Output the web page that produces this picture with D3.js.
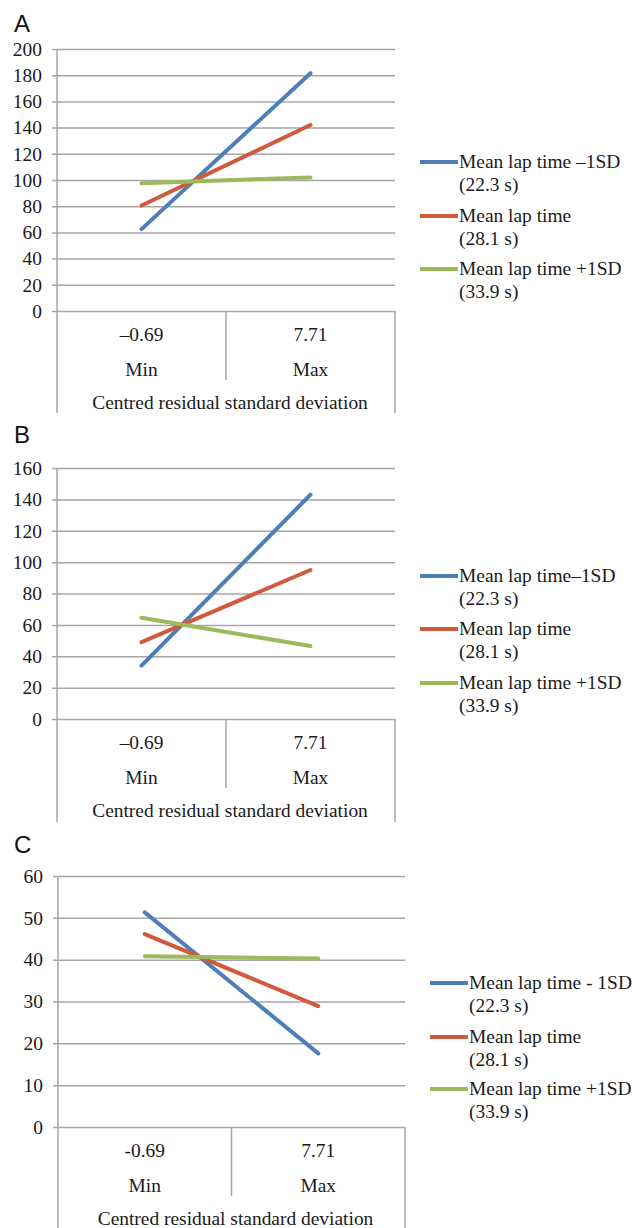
<!DOCTYPE html>
<html>
<head>
<meta charset="utf-8">
<script src="https://cdn.jsdelivr.net/npm/d3@7/dist/d3.min.js"></script>
<style>
  body { margin: 0; background: #fff; }
</style>
</head>
<body>
<div id="chart"></div>
<script>
// categories on the x axis
const categories = ["Min", "Max"];
const residualSD_AB = ["\u20130.69", "7.71"];
const residualSD_C = ["-0.69", "7.71"];
const axisTitle = "Centred residual standard deviation";

// legend entries
const seriesA = ["Mean lap time \u20131SD", "Mean lap time", "Mean lap time +1SD"];
const seriesB = ["Mean lap time\u20131SD", "Mean lap time", "Mean lap time +1SD"];
const seriesC = ["Mean lap time - 1SD", "Mean lap time", "Mean lap time +1SD"];
const lapTimes = ["(22.3 s)", "(28.1 s)", "(33.9 s)"];

// values (Min, Max)
const lowA = [62.5, 181.5];
const meanA = [80.5, 142];
const highA = [97.5, 102];

const lowB = [34, 143];
const meanB = [49, 95];
const highB = [64.5, 46.5];

const lowC = [51.3, 17.6];
const meanC = [46.1, 28.9];
const highC = [40.8, 40.3];

// y tick labels
const yTicksA = [0, 20, 40, 60, 80, 100, 120, 140, 160, 180, 200];
const yTicksB = [0, 20, 40, 60, 80, 100, 120, 140, 160];
const yTicksC = [0, 10, 20, 30, 40, 50, 60];

const colors = ["#4E7DB9", "#CF5A3C", "#9BBA5A"];
const gridColor = "#a6a6a6";
const SERIF = "'Liberation Serif', 'Times New Roman', serif";
const STRETCH = 1.08; // the scanned text is a bit wider than Times

const svg = d3
  .select("#chart")
  .append("svg")
  .attr("width", 638)
  .attr("height", 1228);

function serifText(parent, x, y, str, anchor) {
  return parent
    .append("text")
    .attr("transform", `translate(${x},${y}) scale(${STRETCH},1)`)
    .attr("dy", "0.35em")
    .attr("text-anchor", anchor || "middle")
    .style("font-family", SERIF)
    .style("font-size", "18px")
    .style("fill", "#1a1a1a")
    .text(str);
}

class LapTimePanel {
  constructor(svg, opts) {
    this.svg = svg;
    Object.assign(this, opts);
    this.initVis();
  }

  initVis() {
    let vis = this;
    vis.g = vis.svg.append("g");
    vis.width = vis.right - vis.left;

    vis.x = d3.scaleBand().domain(categories).range([vis.left, vis.right]);
    vis.y = d3
      .scaleLinear()
      .domain([0, d3.max(vis.ticks)])
      .range([vis.bottom, vis.top]);

    // panel letter
    vis.g
      .append("text")
      .attr("x", 14)
      .attr("y", vis.letterY)
      .style("font-family", "'Liberation Sans', Arial, sans-serif")
      .style("font-size", "24px")
      .style("fill", "#111")
      .text(vis.letter);

    // gridlines + tick labels
    vis.yAxis = d3
      .axisLeft(vis.y)
      .tickValues(vis.ticks)
      .tickSize(-vis.width)
      .tickFormat(d3.format("d"));

    vis.yAxisGroup = vis.g
      .append("g")
      .attr("transform", `translate(${vis.left},0)`)
      .call(vis.yAxis);
    vis.yAxisGroup.select(".domain").remove();
    vis.yAxisGroup
      .selectAll("line")
      .attr("x1", -5)
      .attr("stroke", gridColor)
      .attr("stroke-width", 1.5);
    vis.yAxisGroup.selectAll("text").remove();
    vis.yAxisGroup.selectAll(".tick").each(function (d) {
      serifText(d3.select(this), -15, 0, d, "end");
    });

    // category frame
    const frame = vis.g.append("g").attr("stroke", gridColor).attr("stroke-width", 1.5);
    frame.append("line")
      .attr("x1", vis.left).attr("x2", vis.left)
      .attr("y1", vis.top).attr("y2", vis.frameBottom);
    frame.append("line")
      .attr("x1", vis.right).attr("x2", vis.right)
      .attr("y1", vis.bottom).attr("y2", vis.frameBottom);
    frame.append("line")
      .attr("x1", vis.x("Max")).attr("x2", vis.x("Max"))
      .attr("y1", vis.bottom).attr("y2", vis.bottom + 69);

    const cx = (d) => vis.x(d) + vis.x.bandwidth() / 2;
    categories.forEach((c, i) => {
      serifText(vis.g, cx(c), vis.bottom + 24, vis.catValues[i]);
      serifText(vis.g, cx(c), vis.bottom + 59, c);
    });
    serifText(vis.g, (vis.left + vis.right) / 2 + 4, vis.bottom + 92, axisTitle);

    // series lines
    const line = d3
      .line()
      .x((d, i) => cx(categories[i]))
      .y((d) => vis.y(d));

    vis.g
      .selectAll(".series")
      .data(vis.series)
      .enter()
      .append("path")
      .attr("class", "series")
      .attr("d", line)
      .attr("fill", "none")
      .attr("stroke", (d, i) => colors[i])
      .attr("stroke-width", 4)
      .attr("stroke-linecap", "round");

    // legend
    vis.names.forEach((name, i) => {
      const ly = vis.legendY[i];
      vis.g
        .append("line")
        .attr("x1", vis.legendX)
        .attr("x2", vis.legendX + 38)
        .attr("y1", ly)
        .attr("y2", ly)
        .attr("stroke", colors[i])
        .attr("stroke-width", 4);
      serifText(vis.g, vis.legendX + 39, ly, name, "start");
      serifText(vis.g, vis.legendX + 39, ly + 23, lapTimes[i], "start");
    });
  }
}

new LapTimePanel(svg, {
  letter: "A", letterY: 32,
  top: 49, bottom: 311, left: 57, right: 395, frameBottom: 413,
  ticks: yTicksA, catValues: residualSD_AB,
  series: [lowA, meanA, highA], names: seriesA,
  legendX: 420, legendY: [162, 216, 269],
});

new LapTimePanel(svg, {
  letter: "B", letterY: 443,
  top: 468, bottom: 719, left: 57, right: 395, frameBottom: 822,
  ticks: yTicksB, catValues: residualSD_AB,
  series: [lowB, meanB, highB], names: seriesB,
  legendX: 420, legendY: [576, 629, 683],
});

new LapTimePanel(svg, {
  letter: "C", letterY: 853,
  top: 876, bottom: 1127, left: 58, right: 405, frameBottom: 1228,
  ticks: yTicksC, catValues: residualSD_C,
  series: [lowC, meanC, highC], names: seriesC,
  legendX: 430, legendY: [983, 1037, 1089],
});
</script>
</body>
</html>
